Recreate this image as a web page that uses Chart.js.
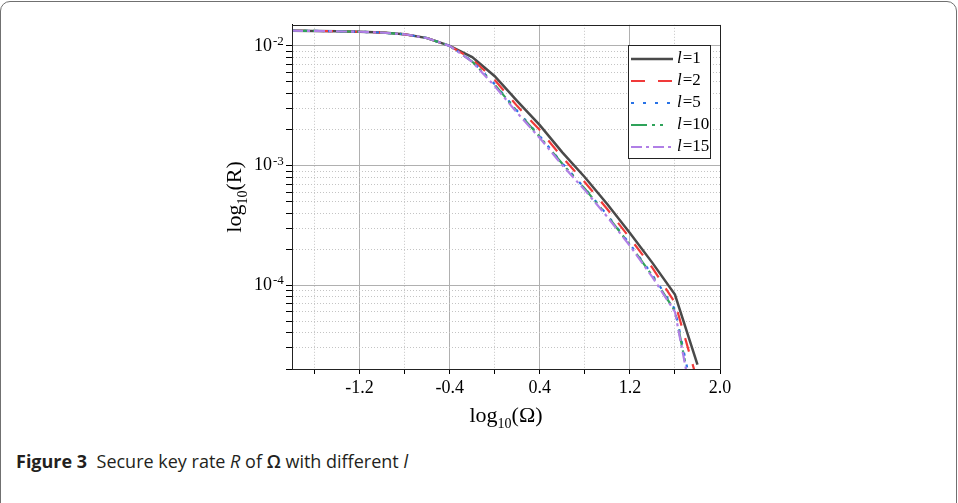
<!DOCTYPE html>
<html>
<head>
<meta charset="utf-8">
<script src="https://cdn.jsdelivr.net/npm/chart.js@4.4.1/dist/chart.umd.min.js"></script>
<style>
  html, body { margin: 0; padding: 0; background: #fff; }
  #wrap { position: relative; width: 958px; height: 503px; overflow: hidden; }
  #frame { position: absolute; left: 0; top: 1px; width: 955px; height: 510px; border: 1.5px solid #707070; border-radius: 10px; }
  #chart { position: absolute; left: 0; top: 0; }
  #caption { position: absolute; left: 16px; top: 449px; font: 18px "Open Sans", "Noto Sans", sans-serif; color: #231f20; white-space: pre; }
  #caption b { font-weight: 700; }
  #caption .om { font-weight: 600; }
</style>
</head>
<body>
<div id="wrap">
  <div id="frame"></div>
  <canvas id="chart" width="958" height="440"></canvas>
  <div id="caption"><b>Figure 3</b>  Secure key rate <i>R</i> of <span class="om">Ω</span> with different <i>l</i></div>
</div>
<script>
// log10(Ω) no eixo x
const omegaLog = [-1.8, -1.6, -1.4, -1.2, -1.0, -0.8, -0.6, -0.4, -0.2, 0, 0.2, 0.4, 0.6, 0.8, 1.0, 1.2, 1.4, 1.6, 1.8];

// taxa R para cada l
const rateL1  = [1.340e-2, 1.334e-2, 1.324e-2, 1.312e-2, 1.291e-2, 1.250e-2, 1.161e-2, 1.000e-2, 8.05e-3, 5.58e-3, 3.46e-3, 2.18e-3, 1.29e-3, 8.00e-4, 4.75e-4, 2.74e-4, 1.54e-4, 8.38e-5, 2.18e-5];
const rateL2  = [1.340e-2, 1.334e-2, 1.324e-2, 1.312e-2, 1.291e-2, 1.250e-2, 1.161e-2, 1.000e-2, 7.74e-3, 5.18e-3, 3.14e-3, 1.98e-3, 1.17e-3, 7.26e-4, 4.32e-4, 2.48e-4, 1.40e-4, 7.18e-5, 1.58e-5];
const rateL5  = [1.340e-2, 1.334e-2, 1.324e-2, 1.312e-2, 1.291e-2, 1.250e-2, 1.161e-2, 1.000e-2, 7.46e-3, 4.79e-3, 2.86e-3, 1.76e-3, 1.045e-3, 6.47e-4, 3.85e-4, 2.21e-4, 1.22e-4, 6.31e-5, 7.9e-6];
const rateL10 = [1.340e-2, 1.334e-2, 1.324e-2, 1.312e-2, 1.291e-2, 1.250e-2, 1.161e-2, 1.000e-2, 7.40e-3, 4.74e-3, 2.83e-3, 1.74e-3, 1.035e-3, 6.40e-4, 3.81e-4, 2.18e-4, 1.20e-4, 6.10e-5, 7.0e-6];
const rateL15 = [1.340e-2, 1.334e-2, 1.324e-2, 1.312e-2, 1.291e-2, 1.250e-2, 1.161e-2, 1.000e-2, 7.36e-3, 4.61e-3, 2.75e-3, 1.70e-3, 1.007e-3, 6.24e-4, 3.72e-4, 2.14e-4, 1.17e-4, 6.0e-5, 6.3e-6];

const seriesNames = ['1', '2', '5', '10', '15'];

// ticks
const xTickValues = [-1.6, -1.2, -0.8, -0.4, 0, 0.4, 0.8, 1.2, 1.6, 2.0];
const xLabelValues = [-1.2, -0.4, 0.4, 1.2, 2.0];
const xTickLabels = ['-1.2', '-0.4', '0.4', '1.2', '2.0'];
const yDecades = [1e-4, 1e-3, 1e-2];
const yExponents = ['-4', '-3', '-2'];

const serif = '"Liberation Serif", "Times New Roman", "DejaVu Serif", serif';
const Y_MIN = 2e-5, Y_MAX = 0.015;

function findIndex(arr, v) {
  for (let i = 0; i < arr.length; i++) {
    if (Math.abs(arr[i] - v) < Math.abs(arr[i]) * 1e-6 + 1e-9) return i;
  }
  return -1;
}

function yTickList() {
  const out = [];
  [1e-5, 1e-4, 1e-3].forEach(d => {
    for (let s = 1; s <= 9; s++) {
      const v = +(s * d).toPrecision(3);
      if (v >= Y_MIN && v <= Y_MAX) out.push({ value: v });
    }
  });
  out.push({ value: 1e-2 });
  return out;
}

function pts(arr) {
  return omegaLog.map((x, i) => ({ x: x, y: arr[i] }));
}

// borda do gráfico, legenda, expoentes e títulos
const framePlugin = {
  id: 'frameLegend',
  afterDatasetsDraw(chart) {
    const { ctx, chartArea: a } = chart;
    ctx.save();
    ctx.strokeStyle = '#222';
    ctx.lineWidth = 1;
    ctx.strokeRect(Math.round(a.left) + 0.5, Math.round(a.top) + 0.5,
      Math.round(a.right - a.left), Math.round(a.bottom - a.top));

    const lx = 628.5, ly = 45.5, lw = 82, lh = 113;
    ctx.fillStyle = '#fff';
    ctx.fillRect(lx, ly, lw, lh);
    ctx.strokeRect(lx, ly, lw, lh);
    chart.data.datasets.forEach((ds, i) => {
      const y = 59 + i * 22;
      ctx.beginPath();
      ctx.setLineDash(ds.borderDash || []);
      ctx.strokeStyle = ds.borderColor;
      ctx.lineWidth = ds.borderWidth;
      ctx.moveTo(631, y);
      ctx.lineTo(673, y);
      ctx.stroke();
      ctx.setLineDash([]);
      ctx.fillStyle = '#000';
      ctx.textBaseline = 'middle';
      ctx.font = 'italic 17px ' + serif;
      ctx.fillText('l', 677, y);
      const w = ctx.measureText('l').width;
      ctx.font = '17px ' + serif;
      ctx.fillText('=' + seriesNames[i], 677 + w + 1, y);
    });
    ctx.restore();
  },
  afterDraw(chart) {
    const { ctx, chartArea: a } = chart;
    const ys = chart.scales.y;
    // expoentes dos rótulos 10^k
    ctx.save();
    ctx.fillStyle = '#000';
    ctx.textAlign = 'left';
    ctx.textBaseline = 'alphabetic';
    ctx.font = '13px ' + serif;
    yDecades.forEach((d, i) => {
      const py = ys.getPixelForValue(d);
      ctx.fillText(yExponents[i], a.left - 19, py - 1);
    });
    ctx.restore();

    // títulos dos eixos com subscrito
    function drawTitle(tail, cx, base) {
      ctx.font = '22px ' + serif;
      const w1 = ctx.measureText('log').width;
      const w3 = ctx.measureText(tail).width;
      ctx.font = '14px ' + serif;
      const w2 = ctx.measureText('10').width;
      let x = cx - (w1 + w2 + w3) / 2;
      ctx.fillStyle = '#000';
      ctx.textBaseline = 'alphabetic';
      ctx.textAlign = 'left';
      ctx.font = '22px ' + serif;
      ctx.fillText('log', x, base);
      x += w1;
      ctx.font = '14px ' + serif;
      ctx.fillText('10', x, base + 6);
      x += w2;
      ctx.font = '22px ' + serif;
      ctx.fillText(tail, x, base);
    }
    ctx.save();
    drawTitle('(\u03A9)', (a.left + a.right) / 2, 422);
    ctx.restore();
    ctx.save();
    ctx.translate(241, 197);
    ctx.rotate(-Math.PI / 2);
    drawTitle('(R)', 0, 0);
    ctx.restore();
  }
};

const isMinorX = v => findIndex(xLabelValues, v) < 0;
const isMinorY = v => findIndex(yDecades, v) < 0;

new Chart(document.getElementById('chart').getContext('2d'), {
  type: 'line',
  data: {
    datasets: [
      { label: 'l=1', data: pts(rateL1), borderColor: '#4a4a4a', borderWidth: 2.5, borderDash: [], order: 5 },
      { label: 'l=2', data: pts(rateL2), borderColor: '#f03a3a', borderWidth: 2.2, borderDash: [14, 13], order: 4 },
      { label: 'l=5', data: pts(rateL5), borderColor: '#2872e6', borderWidth: 2.2, borderDash: [3, 9], order: 3 },
      { label: 'l=10', data: pts(rateL10), borderColor: '#2fa35a', borderWidth: 2.2, borderDash: [16, 5, 3, 5, 3, 12], order: 2 },
      { label: 'l=15', data: pts(rateL15), borderColor: '#b07fe6', borderWidth: 2.2, borderDash: [11, 4, 3, 4], order: 1 }
    ].map(d => Object.assign(d, { pointRadius: 0, fill: false, tension: 0, clip: 0 }))
  },
  options: {
    responsive: false,
    animation: false,
    devicePixelRatio: 1,
    layout: { padding: { left: 222, right: 238, top: 24, bottom: 0 } },
    plugins: { legend: { display: false }, tooltip: { enabled: false } },
    scales: {
      x: {
        type: 'linear',
        min: -1.8,
        max: 2.0,
        afterFit: s => { s.height = 71; },
        afterBuildTicks: s => { s.ticks = xTickValues.map(v => ({ value: v })); },
        ticks: {
          autoSkip: false,
          maxRotation: 0,
          padding: 3,
          color: '#000',
          font: { family: serif, size: 18 },
          callback: v => {
            const j = findIndex(xLabelValues, v);
            return j < 0 ? '' : xTickLabels[j];
          }
        },
        grid: {
          color: c => c.tick && isMinorX(c.tick.value) ? '#c4c4c4' : '#b0b0b0',
          lineWidth: 1,
          tickLength: 5,
          tickColor: '#000'
        },
        border: {
          display: true,
          color: '#000',
          width: 1,
          dash: c => c.tick && isMinorX(c.tick.value) ? [1, 2] : []
        }
      },
      y: {
        type: 'logarithmic',
        min: Y_MIN,
        max: Y_MAX,
        afterFit: s => { s.width = 70; },
        afterBuildTicks: s => { s.ticks = yTickList(); },
        ticks: {
          autoSkip: false,
          padding: 14,
          color: '#000',
          font: { family: serif, size: 18 },
          callback: v => findIndex(yDecades, v) < 0 ? '' : '10'
        },
        grid: {
          color: c => c.tick && isMinorY(c.tick.value) ? '#c4c4c4' : '#b0b0b0',
          lineWidth: 1,
          tickLength: 6,
          tickColor: '#000'
        },
        border: {
          display: true,
          color: '#000',
          width: 1,
          dash: c => c.tick && isMinorY(c.tick.value) ? [1, 2] : []
        }
      }
    }
  },
  plugins: [framePlugin]
});
</script>
</body>
</html>
